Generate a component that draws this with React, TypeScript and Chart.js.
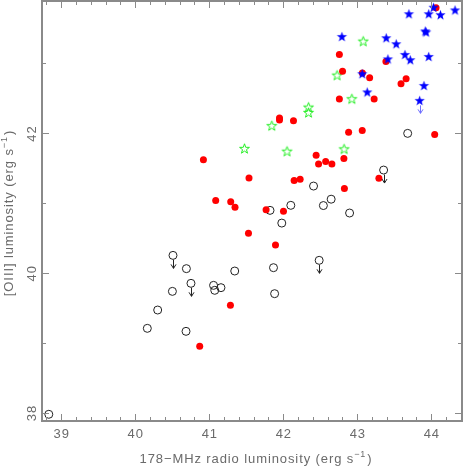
import React, { useEffect, useRef } from "react";
import { Chart, registerables } from "chart.js";

Chart.register(...registerables);

// ---- Data (log luminosities) ----
const redX = [44.064, 42.758, 42.801, 43.387, 43.069, 43.167, 43.591, 43.660, 42.758, 43.228,
  41.949, 41.949, 42.138, 42.883, 43.067, 44.046, 40.921, 42.444, 42.477, 42.573,
  42.657, 42.819, 41.537, 42.147, 42.228, 42.826, 43.292, 41.087, 41.290, 41.348,
  41.768, 42.003, 41.530, 41.895, 41.286, 40.871];
const redY = [43.794, 43.123, 42.886, 43.023, 42.861, 42.793, 42.707, 42.778, 42.486, 42.486,
  42.215, 42.186, 42.177, 42.013, 42.036, 41.981, 41.619, 41.681, 41.559, 41.595,
  41.557, 41.638, 41.356, 41.323, 41.340, 41.206, 41.352, 41.037, 41.019, 40.937,
  40.904, 40.880, 40.565, 40.398, 39.535, 38.948];

const openX = [43.681, 43.356, 42.409, 42.102, 41.821, 42.542, 42.647, 42.896, 41.980, 42.485,
  40.691, 41.344, 41.868, 40.510, 40.753, 40.502, 41.058, 41.158, 41.074, 41.883,
  40.303, 40.163, 40.686, 38.832];
const openY = [41.996, 41.471, 41.242, 40.966, 40.894, 40.963, 41.054, 40.856, 40.712, 40.179,
  40.060, 40.026, 40.074, 40.250, 39.850, 39.735, 39.821, 39.788, 39.750, 39.702,
  39.468, 39.206, 39.163, 37.976];
const openUpperLimit = [false, true, false, false, false, false, false, false, false, true,
  false, false, false, true, true, false, false, false, false, false,
  false, false, false, false];

const greenX = [43.080, 42.727, 42.927, 42.341, 42.341, 41.845, 41.476, 42.051, 42.822];
const greenY = [43.316, 42.830, 42.492, 42.372, 42.296, 42.107, 41.781, 41.741, 41.774];

const blueX = [43.698, 43.965, 44.124, 44.321, 44.030, 43.918, 43.930, 42.792, 43.391, 43.526,
  43.644, 43.716, 43.965, 43.414, 43.067, 43.134, 43.901, 43.843];
const blueY = [43.708, 43.708, 43.695, 43.763, 43.801, 43.462, 43.448, 43.383, 43.365, 43.279,
  43.126, 43.050, 43.097, 43.062, 42.850, 42.589, 42.682, 42.468];
const blueUpperLimit = [false, false, false, false, false, false, false, false, false, false,
  false, false, false, false, false, false, false, true];

// ---- Axes ----
const xRange = [38.74, 44.415];
const yRange = [37.88, 43.89];
const xMajorTicks = [39, 40, 41, 42, 43, 44];
const yMajorTicks = [38, 40, 42];
const xMinorStep = 0.2;
const yMinorStep = 1;
const xTitleMain = "178\u2212MHz radio luminosity (erg s";
const yTitleMain = "[OIII] luminosity (erg s";
const titleSup = "\u22121";
const titleEnd = ")";

const AXIS_COLOR = "#8a8a8a";
const TEXT_COLOR = "#6a6a6a";
const FONT = "'Liberation Sans', Arial, sans-serif";

function makeStar(R: number, fill: string | null, stroke: string | null, lw: number) {
  const size = Math.ceil(R * 2 + 4);
  const c = document.createElement("canvas");
  c.width = size;
  c.height = size;
  const ctx = c.getContext("2d")!;
  const cx = size / 2;
  const cy = size / 2 + R * 0.1;
  const r = R * 0.4;
  ctx.beginPath();
  for (let i = 0; i < 10; i++) {
    const a = -Math.PI / 2 + (i * Math.PI) / 5;
    const rr = i % 2 === 0 ? R : r;
    ctx.lineTo(cx + rr * Math.cos(a), cy + rr * Math.sin(a));
  }
  ctx.closePath();
  if (fill) {
    ctx.fillStyle = fill;
    ctx.fill();
  }
  if (stroke) {
    ctx.strokeStyle = stroke;
    ctx.lineWidth = lw;
    ctx.stroke();
  }
  return c;
}

function drawComposite(ctx: CanvasRenderingContext2D) {
  return (main: string) => {
    ctx.font = `13px ${FONT}`;
    (ctx as any).letterSpacing = "0.9px";
    const w1 = ctx.measureText(main).width;
    const w3 = ctx.measureText(titleEnd).width;
    ctx.font = `9px ${FONT}`;
    const w2 = ctx.measureText(titleSup).width;
    const total = w1 + w2 + w3 + 1;
    let x = -total / 2;
    ctx.textAlign = "left";
    ctx.textBaseline = "alphabetic";
    ctx.font = `13px ${FONT}`;
    ctx.fillText(main, x, 0);
    x += w1;
    ctx.font = `9px ${FONT}`;
    ctx.fillText(titleSup, x, -6);
    x += w2 + 1;
    ctx.font = `13px ${FONT}`;
    ctx.fillText(titleEnd, x, 0);
  };
}

const framePlugin = {
  id: "framePlugin",
  afterDatasetsDraw(chart: any) {
    const ctx: CanvasRenderingContext2D = chart.ctx;
    const xs = chart.scales.x;
    const ys = chart.scales.y;
    chart.data.datasets.forEach((ds: any) => {
      if (!ds.upperLimit) return;
      ds.data.forEach((p: any, i: number) => {
        if (!ds.upperLimit[i]) return;
        const px = Math.round(xs.getPixelForValue(p.x)) + 0.5;
        const py = ys.getPixelForValue(p.y);
        ctx.save();
        ctx.strokeStyle = ds.arrowColor;
        ctx.lineWidth = 1;
        ctx.beginPath();
        ctx.moveTo(px, py + ds.arrowStart);
        ctx.lineTo(px, py + 13);
        ctx.moveTo(px - 2.5, py + 9);
        ctx.lineTo(px, py + 13);
        ctx.lineTo(px + 2.5, py + 9);
        ctx.stroke();
        ctx.restore();
      });
    });
  },
  afterDraw(chart: any) {
    const ctx: CanvasRenderingContext2D = chart.ctx;
    const xs = chart.scales.x;
    const ys = chart.scales.y;
    const { left, right, top, bottom } = chart.chartArea;
    ctx.save();
    ctx.strokeStyle = AXIS_COLOR;
    ctx.lineWidth = 1;
    ctx.beginPath();
    const xmin = xs.min, xmax = xs.max;
    for (let v = Math.ceil(xmin / xMinorStep) * xMinorStep; v <= xmax + 1e-9; v += xMinorStep) {
      const vv = Math.round(v * 1000) / 1000;
      const major = xMajorTicks.some((t) => Math.abs(t - vv) < 1e-6);
      const len = major ? 7 : 4;
      const px = Math.round(xs.getPixelForValue(vv)) + 0.5;
      ctx.moveTo(px, bottom);
      ctx.lineTo(px, bottom - len);
      ctx.moveTo(px, top);
      ctx.lineTo(px, top + len);
    }
    const ymin = ys.min, ymax = ys.max;
    for (let v = Math.ceil(ymin / yMinorStep) * yMinorStep; v <= ymax + 1e-9; v += yMinorStep) {
      const major = yMajorTicks.some((t) => Math.abs(t - v) < 1e-6);
      const len = major ? 7 : 4;
      const py = Math.round(ys.getPixelForValue(v)) + 0.5;
      ctx.moveTo(left, py);
      ctx.lineTo(left + len, py);
      ctx.moveTo(right, py);
      ctx.lineTo(right - len, py);
    }
    ctx.stroke();
    ctx.lineWidth = 2;
    ctx.strokeRect(left, top, right - left, bottom - top);
    ctx.fillStyle = TEXT_COLOR;
    ctx.font = `13px ${FONT}`;
    (ctx as any).letterSpacing = "0.9px";
    ctx.textAlign = "center";
    ctx.textBaseline = "alphabetic";
    xMajorTicks.forEach((t) => {
      ctx.fillText(String(t), xs.getPixelForValue(t) + 0.5, bottom + 17);
    });
    yMajorTicks.forEach((t) => {
      ctx.save();
      ctx.translate(left - 6, ys.getPixelForValue(t) + 0.5);
      ctx.rotate(-Math.PI / 2);
      ctx.fillText(String(t), 0, 0);
      ctx.restore();
    });
    ctx.save();
    ctx.translate((left + right) / 2 + 4, bottom + 42);
    drawComposite(ctx)(xTitleMain);
    ctx.restore();
    ctx.save();
    ctx.translate(left - 29, (top + bottom) / 2 + 2);
    ctx.rotate(-Math.PI / 2);
    drawComposite(ctx)(yTitleMain);
    ctx.restore();
    ctx.restore();
  },
};

export default function App() {
  const ref = useRef<HTMLCanvasElement | null>(null);
  useEffect(() => {
    if (!ref.current) return;
    const blueStar = makeStar(5.4, "#0000ff", null, 0);
    const greenStar = makeStar(5.2, null, "#22ee22", 1);
    const toPts = (xs: number[], ys: number[]) => xs.map((x, i) => ({ x, y: ys[i] }));
    const chart = new Chart(ref.current, {
      type: "scatter",
      data: {
        datasets: [
          {
            label: "blue",
            data: toPts(blueX, blueY),
            pointStyle: blueStar as any,
            pointRadius: 5,
            upperLimit: blueUpperLimit,
            arrowColor: "#6f6fff",
            arrowStart: 5,
          } as any,
          {
            label: "red",
            data: toPts(redX, redY),
            pointStyle: "circle",
            pointRadius: 3.5,
            backgroundColor: "#ff0000",
            borderWidth: 0,
          },
          {
            label: "green",
            data: toPts(greenX, greenY),
            pointStyle: greenStar as any,
            pointRadius: 5,
          },
          {
            label: "open",
            data: toPts(openX, openY),
            pointStyle: "circle",
            pointRadius: 4,
            backgroundColor: "rgba(0,0,0,0)",
            borderColor: "#222222",
            borderWidth: 1,
            upperLimit: openUpperLimit,
            arrowColor: "#222222",
            arrowStart: 4.5,
          } as any,
        ],
      },
      options: {
        animation: false,
        responsive: true,
        maintainAspectRatio: false,
        layout: { autoPadding: false, padding: { left: 42, right: 1, top: 1, bottom: 46 } },
        plugins: { legend: { display: false }, tooltip: { enabled: false } },
        elements: { point: { hoverRadius: 0 } },
        scales: {
          x: { type: "linear", min: xRange[0], max: xRange[1], display: false },
          y: { type: "linear", min: yRange[0], max: yRange[1], display: false },
        },
      },
      plugins: [framePlugin],
    });
    return () => chart.destroy();
  }, []);
  return (
    <div style={{ position: "absolute", left: 0, top: 0, width: 463, height: 467 }}>
      <canvas ref={ref} />
    </div>
  );
}
